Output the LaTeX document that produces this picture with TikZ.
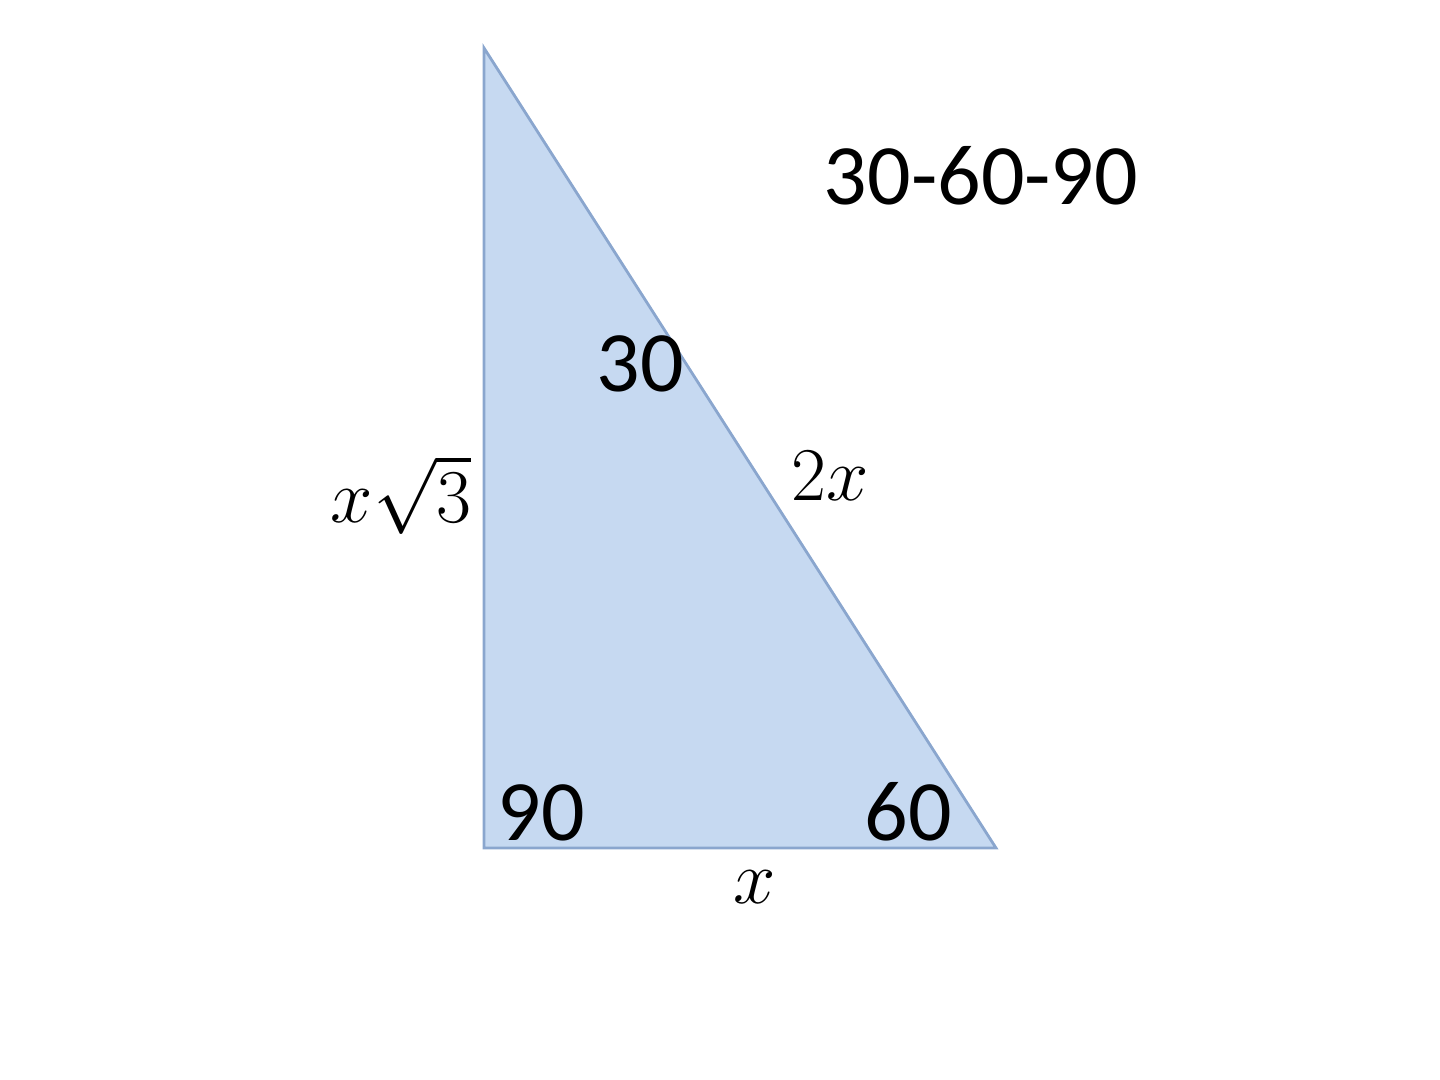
\RequirePackage{fix-cm}
\documentclass[tikz,border=0pt]{standalone}
\usepackage{fontspec}
\setmainfont{Carlito}
\begin{document}
\begin{tikzpicture}[x=0.5pt,y=-0.5pt,
  lbl/.style={inner sep=0pt,anchor=base,font=\fontsize{43}{50}\selectfont},
  mlbl/.style={inner sep=0pt,anchor=base,font=\fontsize{38}{44}\selectfont}]
\useasboundingbox (0,0) rectangle (1440,1080);
\definecolor{trifill}{HTML}{C6D9F1}
\definecolor{triline}{HTML}{8AA6CE}
\coordinate (A) at (484,48);
\coordinate (B) at (484,848);
\coordinate (C) at (996,848);
\filldraw[fill=trifill,draw=triline,line width=1.4pt,line join=miter] (A) -- (B) -- (C) -- cycle;
\node[lbl] (title) at (981,205) {30-60-90};
\node[lbl] (a30) at (640,392) {30};
\node[lbl] (a90) at (541,840) {90};
\node[lbl] (a60) at (908,840) {60};
\node[mlbl] (s1) at (401,523) {$x\sqrt{3}$};
\node[mlbl] (s2) at (830,500) {$2x$};
\node[mlbl] (s3) at (755,903) {$x$};
\end{tikzpicture}
\end{document}
